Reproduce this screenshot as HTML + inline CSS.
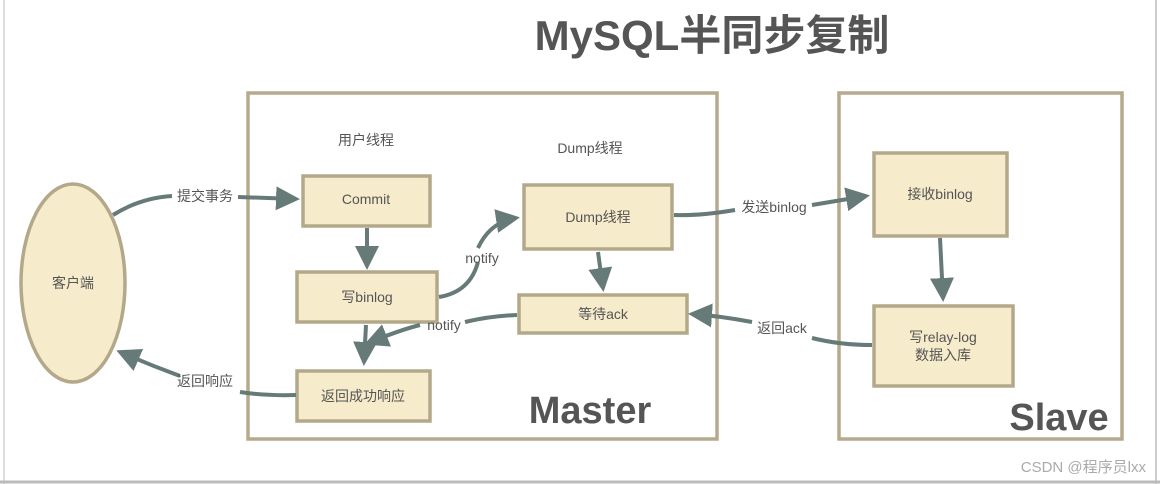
<!DOCTYPE html>
<html><head><meta charset="utf-8"><style>
html,body{margin:0;padding:0;background:#fff;}
svg{display:block;}
text{font-family:"Liberation Sans","Noto Sans CJK SC",sans-serif;fill:#555;}
</style></head><body>
<svg width="1160" height="484" viewBox="0 0 1160 484" xmlns="http://www.w3.org/2000/svg">
<defs>
<marker id="a" markerWidth="6" markerHeight="6" refX="5" refY="3" orient="auto" markerUnits="strokeWidth">
<path d="M0,0 L6,3 L0,6 z" fill="#667a78"/></marker>
</defs>
<rect x="0" y="0" width="1160" height="484" fill="#fff"/>
<line x1="4" y1="0" x2="4" y2="484" stroke="#ddd" stroke-width="2"/>
<line x1="1156" y1="0" x2="1156" y2="484" stroke="#ccc" stroke-width="2"/>
<line x1="0" y1="482" x2="1160" y2="482" stroke="#bbb" stroke-width="3"/>
<text x="712" y="50" font-size="42" font-weight="bold" text-anchor="middle" fill="#555">MySQL半同步复制</text>
<g fill="#fff" stroke="#b5aa8c" stroke-width="3.5">
<rect x="248" y="93" width="469" height="346"/>
<rect x="839" y="93" width="283" height="346"/>
</g>
<g fill="#f6ebcb" stroke="#b3a88a" stroke-width="3.5">
<ellipse cx="73" cy="283" rx="52" ry="99"/>
<rect x="303" y="176" width="127" height="50"/>
<rect x="297" y="272" width="140" height="50"/>
<rect x="297" y="371" width="133" height="50"/>
<rect x="524" y="185" width="148" height="64"/>
<rect x="519" y="295" width="168" height="38"/>
<rect x="874" y="153" width="133" height="83"/>
<rect x="874" y="306" width="139" height="80"/>
</g>
<g fill="none" stroke="#667a78" stroke-width="4">
<path d="M113,215 Q140,198 172,196 M238,197 L296,199" marker-end="url(#a)"/>
<path d="M367,228 L367,266" marker-end="url(#a)"/>
<path d="M439,297 Q470,292 478,262 M478,248 Q490,222 516,218" marker-end="url(#a)"/>
<path d="M598,252 L603,288" marker-end="url(#a)"/>
<path d="M517,315 Q490,316 465,322 M420,325 Q400,330 368,343" marker-end="url(#a)"/>
<path d="M366,325 L364,362" marker-end="url(#a)"/>
<path d="M674,215 Q700,216 735,210 M812,205 L866,196" marker-end="url(#a)"/>
<path d="M940,238 L943,298" marker-end="url(#a)"/>
<path d="M872,345 Q840,345 812,338 M752,322 Q720,316 692,314" marker-end="url(#a)"/>
<path d="M296,395 Q265,396 240,392 M180,376 Q150,365 120,352" marker-end="url(#a)"/>
</g>
<g font-size="14" text-anchor="middle">
<text x="73" y="288">客户端</text>
<text x="366" y="145">用户线程</text>
<text x="590" y="153">Dump线程</text>
<text x="366" y="204">Commit</text>
<text x="367" y="302">写binlog</text>
<text x="363" y="401">返回成功响应</text>
<text x="598" y="222">Dump线程</text>
<text x="603" y="319">等待ack</text>
<text x="940" y="199">接收binlog</text>
<text x="943" y="342">写relay-log</text>
<text x="943" y="360">数据入库</text>
<text x="205" y="201">提交事务</text>
<text x="482" y="263">notify</text>
<text x="444" y="330">notify</text>
<text x="774" y="212">发送binlog</text>
<text x="782" y="333">返回ack</text>
<text x="205" y="386">返回响应</text>
</g>
<text x="590" y="423" font-size="38" font-weight="bold" text-anchor="middle">Master</text>
<text x="1059" y="430" font-size="38" font-weight="bold" text-anchor="middle">Slave</text>
<text x="1146" y="472" font-size="15" text-anchor="end" fill="#aaa" style="fill:#aaa">CSDN @程序员lxx</text>
</svg>
</body></html>
